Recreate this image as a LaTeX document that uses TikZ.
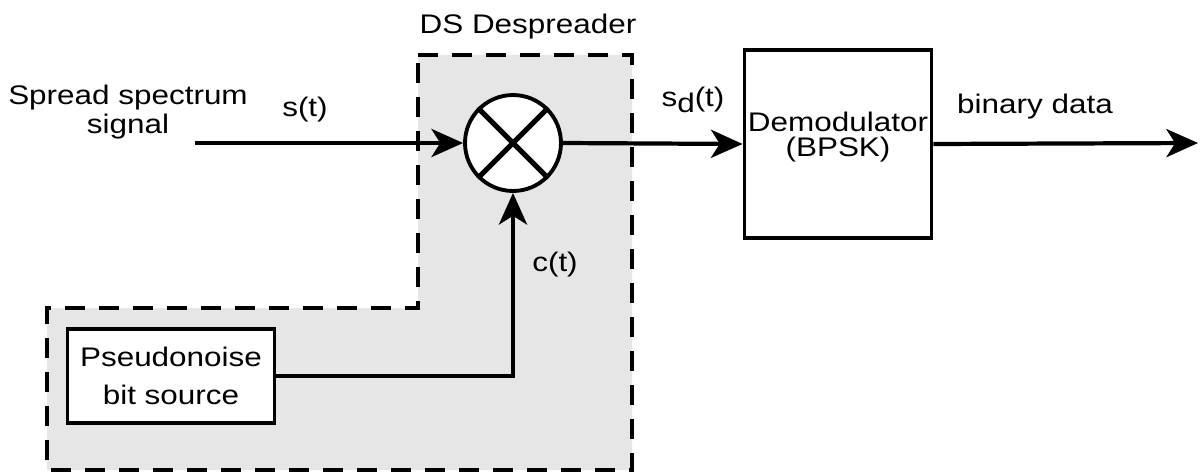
\documentclass[tikz,border=0pt]{standalone}
\usepackage{fontspec}
\setmainfont{Liberation Sans}[FakeStretch=1.17]
\usepackage{tikz}
\usetikzlibrary{arrows.meta,positioning,calc}
\definecolor{despread}{HTML}{E6E6E6}

\begin{document}
\begin{tikzpicture}[x=0.02cm, y=-0.02cm,
  font=\fontsize{15.3}{16}\selectfont,
  sig/.style={line width=2.4pt, -{Stealth[length=18pt, width=16pt, inset=5pt]}},
  blk/.style={draw, line width=2.2pt, fill=white, align=center, inner sep=0pt},
  lbl/.style={align=center, inner sep=1pt}]
  \useasboundingbox (0,0) rectangle (1200,473);

  % despreader region (L-shaped, dashed)
  \draw[fill=despread, line width=2.4pt, dash pattern=on 0.4cm off 0.28cm]
    (418,55) -- (632,55) -- (632,470) -- (47,470) -- (47,308) -- (418,308) -- cycle;
  \node[lbl] (ds) at (528,27) {DS Despreader};

  % blocks
  \node[blk, circle, minimum size=1.92cm] (mix) at (513,143) {};
  \draw[line width=3pt] (mix.north west) -- (mix.south east)
                        (mix.north east) -- (mix.south west);
  \node[blk, minimum width=4.14cm, minimum height=1.88cm,
        font=\fontsize{15.3}{22}\selectfont] (pn) at (171,376) {Pseudonoise\\bit source};
  \node[blk, minimum width=3.74cm, minimum height=3.76cm, text depth=0.4cm,
        font=\fontsize{15.3}{14}\selectfont] (demod) at (838,144) {Demodulator\\(BPSK)};

  % labels
  \node[lbl] (src) at (128,112) {Spread spectrum\\signal};
  \node[lbl] (st) at (305,110) {s(t)};
  \node[lbl] (ct) at (555,265) {c(t)};
  \node[lbl] (sd) at (693,100) {s\raisebox{-0.4ex}{d}(t)};
  \node[lbl] (bin) at (1035,107) {binary data};

  \coordinate (in) at (195,143);
  \coordinate (out) at (1198,143);

  % connections
  \draw[sig] (in) -- (mix.west);
  \draw[sig] (pn.east) -| (mix.south);
  \draw[sig] (mix.east) -- (demod.west);
  \draw[sig] (demod.east) -- (out);
\end{tikzpicture}
\end{document}
